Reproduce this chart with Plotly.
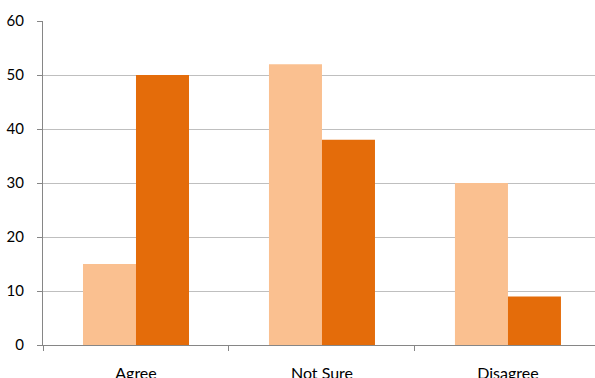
import plotly.graph_objects as go

categories = ["Agree", "Not Sure", "Disagree"]
series_a = [15, 52, 30]
series_b = [50, 38, 9]
y_ticks = [0, 10, 20, 30, 40, 50, 60]

fig = go.Figure()
fig.add_trace(go.Bar(x=categories, y=series_a, marker=dict(color="#FAC090", line=dict(width=0)), name="Series 1"))
fig.add_trace(go.Bar(x=categories, y=series_b, marker=dict(color="#E46C0A", line=dict(width=0)), name="Series 2"))

fig.update_layout(
    width=595, height=378,
    margin=dict(l=43, r=0, t=21, b=33),
    paper_bgcolor="white", plot_bgcolor="white",
    barmode="group", bargap=0.43, bargroupgap=0,
    showlegend=False,
    font=dict(family="Lato, 'Open Sans', sans-serif", size=15, color="#000000"),
)
fig.update_xaxes(
    type="category",
    range=[-0.5, 2.468],
    automargin=False,
    showgrid=False,
    showline=True, linecolor="#868686", linewidth=1,
    ticks="outside", tickson="boundaries", ticklen=5, tickcolor="#868686",
    ticklabelstandoff=14,
    tickfont=dict(size=16),
)
fig.update_yaxes(
    range=[0, 60],
    tickvals=y_ticks,
    automargin=False,
    showgrid=True, gridcolor="#BFBFBF", gridwidth=1,
    zeroline=False,
    showline=True, linecolor="#868686", linewidth=1,
    ticks="outside", ticklen=5, tickcolor="#868686",
    ticklabelstandoff=10,
    tickfont=dict(size=15),
)

fig.write_html("out.html")
